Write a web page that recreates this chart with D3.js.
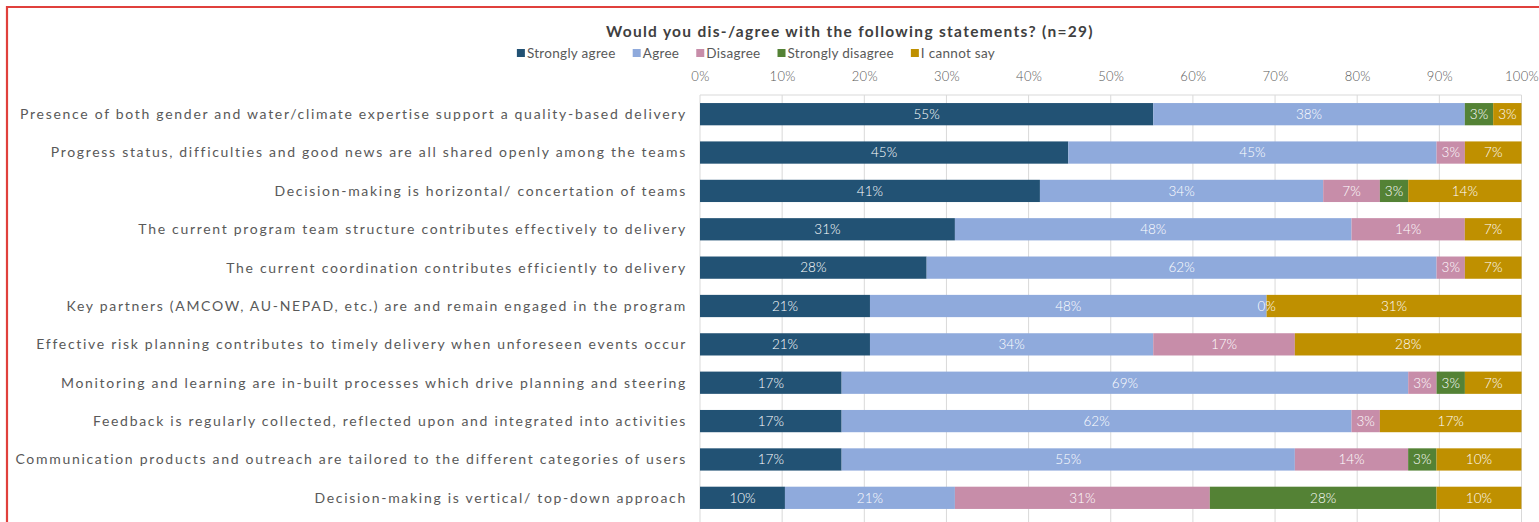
<!DOCTYPE html>
<html>
<head>
<meta charset="utf-8">
<script src="https://cdn.jsdelivr.net/npm/d3@7/dist/d3.min.js"></script>
<style>
  html, body { margin: 0; padding: 0; background: #fff; }
  svg { display: block; font-family: "Lato", "Open Sans", sans-serif; }
</style>
</head>
<body>
<svg id="chart" width="1539" height="522"></svg>
<script>
// ---- data (percent of n=29 respondents) ----
const titleText = "Would you dis-/agree with the following statements? (n=29)";
const categories = [
  "Presence of both gender and water/climate expertise support a quality-based delivery",
  "Progress status, difficulties and good news are all shared openly among the teams",
  "Decision-making is horizontal/ concertation of teams",
  "The current program team structure contributes effectively to delivery",
  "The current coordination contributes efficiently to delivery",
  "Key partners (AMCOW, AU-NEPAD, etc.) are and remain engaged in the program",
  "Effective risk planning contributes to timely delivery when unforeseen events occur",
  "Monitoring and learning are in-built processes which drive planning and steering",
  "Feedback is regularly collected, reflected upon and integrated into activities",
  "Communication products and outreach are tailored to the different categories of users",
  "Decision-making is vertical/ top-down approach"
];
const seriesNames = ["Strongly agree", "Agree", "Disagree", "Strongly disagree", "I cannot say"];
const stronglyAgree    = [55.17, 44.83, 41.38, 31.03, 27.59, 20.69, 20.69, 17.24, 17.24, 17.24, 10.34];
const agree            = [37.93, 44.83, 34.48, 48.28, 62.07, 48.28, 34.48, 68.97, 62.07, 55.17, 20.69];
const disagree         = [null, 3.45, 6.90, 13.79, 3.45, 0, 17.24, 3.45, 3.45, 13.79, 31.03];
const stronglyDisagree = [3.45, null, 3.45, null, null, null, null, 3.45, null, 3.45, 27.59];
const cannotSay        = [3.45, 6.90, 13.79, 6.90, 6.90, 31.03, 27.59, 6.90, 17.24, 10.34, 10.34];
const xTicks = [0, 10, 20, 30, 40, 50, 60, 70, 80, 90, 100];
const colors = ["#225274", "#8faadc", "#c78da9", "#548235", "#bf9000"];

const seriesValues = [stronglyAgree, agree, disagree, stronglyDisagree, cannotSay];

// ---- layout ----
const svg = d3.select("#chart");
const W = 1539, H = 522;
const plot = { left: 700, right: 1521.5, top: 95, bottom: 517 };

// frame
svg.append("path")
  .attr("d", `M7,${H + 5} L7,7 L${W + 5},7`)
  .attr("fill", "none").attr("stroke", "#e0403c").attr("stroke-width", 2.2);

const x = d3.scaleLinear().domain([0, 100]).range([plot.left, plot.right]);
const y = d3.scaleBand().domain(categories).range([plot.top, plot.bottom]).paddingInner(0.42).paddingOuter(0.21);

// grid
svg.append("g").selectAll("line").data(xTicks).join("line")
  .attr("x1", d => x(d)).attr("x2", d => x(d))
  .attr("y1", plot.top).attr("y2", H)
  .attr("stroke", "#d9d9d9").attr("stroke-width", 1);
svg.append("line")
  .attr("x1", x(0)).attr("x2", x(100)).attr("y1", plot.top).attr("y2", plot.top)
  .attr("stroke", "#d9d9d9").attr("stroke-width", 1);

// top axis tick labels
const axis = d3.axisTop(x).tickValues(xTicks).tickFormat(d => d + "%").tickSize(0).tickPadding(0);
const gAxis = svg.append("g").attr("transform", `translate(0,${81})`).call(axis);
gAxis.select(".domain").remove();
gAxis.selectAll("text")
  .attr("font-family", "Lato, sans-serif").attr("font-size", 13)
  .attr("font-weight", 300).attr("fill", "#595959").attr("letter-spacing", "0.3px");

// category labels
svg.append("g").selectAll("text").data(categories).join("text")
  .attr("x", 687).attr("y", d => y(d) + y.bandwidth() / 2)
  .attr("dy", "0.35em").attr("text-anchor", "end")
  .attr("font-size", 14).attr("fill", "#595959").attr("letter-spacing", "1.7px")
  .text(d => d);

// stacked bars
const rows = categories.map((c, i) => {
  let acc = 0;
  return seriesValues.map((arr, s) => {
    const v = arr[i];
    const seg = { cat: c, s, v, x0: acc, x1: acc + (v || 0) };
    acc += (v || 0);
    return seg;
  });
}).flat();

svg.append("g").selectAll("rect").data(rows.filter(d => d.v)).join("rect")
  .attr("x", d => x(d.x0)).attr("width", d => x(d.x1) - x(d.x0))
  .attr("y", d => y(d.cat)).attr("height", y.bandwidth())
  .attr("fill", d => colors[d.s]);

svg.append("g").selectAll("text").data(rows.filter(d => d.v !== null)).join("text")
  .attr("x", d => (x(d.x0) + x(d.x1)) / 2)
  .attr("y", d => y(d.cat) + y.bandwidth() / 2)
  .attr("dy", "0.36em").attr("text-anchor", "middle")
  .attr("font-size", 13.5).attr("font-weight", 300).attr("fill", "#ffffff")
  .text(d => Math.round(d.v) + "%");

// title
svg.append("text")
  .attr("x", 850).attr("y", 37).attr("text-anchor", "middle")
  .attr("font-size", 15.5).attr("font-weight", 700).attr("fill", "#404040")
  .attr("letter-spacing", "1.3px")
  .text(titleText);

// legend: items laid out in sequence, centred
const lgG = svg.append("g").attr("transform", "translate(0,53)");
const items = lgG.selectAll("g").data(seriesNames).join("g");
items.append("rect").attr("x", 0).attr("y", -4).attr("width", 8).attr("height", 8)
  .attr("fill", (d, i) => colors[i]);
items.append("text").attr("x", 10).attr("y", 0).attr("dy", "0.35em")
  .attr("font-size", 13.5).attr("fill", "#595959").attr("letter-spacing", "0.3px")
  .text(d => d);
const gap = 17;
const widths = [];
items.each(function () { widths.push(this.getBBox().width); });
const total = d3.sum(widths) + gap * (widths.length - 1);
let cx = 756 - total / 2;
items.attr("transform", (d, i) => {
  const t = `translate(${cx},0)`;
  cx += widths[i] + gap;
  return t;
});
</script>
</body>
</html>
